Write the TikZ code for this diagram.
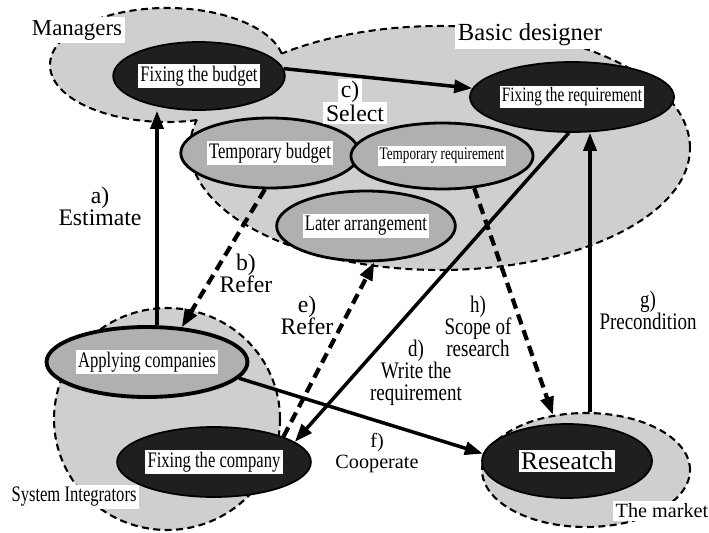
\documentclass[tikz,border=0pt]{standalone}
\usepackage{fontspec}
\setmainfont{Liberation Serif}
\newfontfamily\narrowfont{Liberation Serif}[FakeStretch=0.75]
\newfontfamily\midfont{Liberation Serif}[FakeStretch=0.8]
\usetikzlibrary{shapes.geometric,arrows.meta}

\newcommand{\wbox}[1]{{\setlength{\fboxsep}{1.2pt}\colorbox{white}{#1}}}

\tikzset{
  zone/.style={ellipse, draw, line width=1.2pt, dash pattern=on 4pt off 2.5pt,
    fill=gray!38, inner sep=0pt},
  darknode/.style={ellipse, fill=black!88, draw=black, line width=1pt, inner sep=0pt,
    font=\narrowfont\fontsize{12.6}{13}\selectfont},
  greynode/.style={ellipse, fill=gray!62, draw=black, line width=1.6pt, inner sep=0pt,
    font=\narrowfont\fontsize{12.6}{13}\selectfont},
  zonelabel/.style={fill=white, inner sep=1.5pt, font=\fontsize{13}{14}\selectfont},
  flowlabel/.style={align=center, inner sep=1pt, font=\fontsize{13.5}{12.5}\selectfont},
  narrowlabel/.style={flowlabel, font=\midfont\fontsize{13.5}{12.5}\selectfont},
  solidarrow/.style={line width=2pt, -{Triangle[length=3.6mm,width=2.6mm]}},
  dasharrow/.style={line width=2.4pt, dash pattern=on 6pt off 3.5pt,
    -{Triangle[length=3.6mm,width=2.6mm]}},
}

\begin{document}
\begin{tikzpicture}[x=0.02cm, y=-0.02cm]
  \useasboundingbox (0,0) rectangle (709,533);

  % zones
  \node[zone, minimum width=10cm, minimum height=4.88cm] (designzone) at (440,148) {};
  \node[zone, minimum width=4.68cm, minimum height=2.28cm] (mgrzone) at (167,65) {};
  \fill[gray!38] (designzone.center) ellipse [x radius=4.97cm, y radius=2.41cm];
  \fill[gray!38] (mgrzone.center) ellipse [x radius=2.31cm, y radius=1.11cm];
  \node[zone, minimum width=4.52cm, minimum height=4.44cm] (sizone) at (167,419) {};
  \node[zone, minimum width=4.16cm, minimum height=2.28cm] (mktzone) at (586,470) {};

  % zone names
  \node[zonelabel] (mgrlabel) at (77,30) {Managers};
  \node[zonelabel, font=\fontsize{14}{15}\selectfont] (designlabel) at (530,35) {Basic designer};
  \node[zonelabel, font=\narrowfont\fontsize{12.6}{13}\selectfont] (silabel) at (74,497) {System Integrators};
  \node[zonelabel, font=\fontsize{11.5}{12}\selectfont] (mktlabel) at (662,511) {The market};

  % activities
  \node[darknode, minimum width=3.24cm, minimum height=1.36cm] (budget) at (199,76) {\wbox{Fixing the budget}};
  \node[darknode, minimum width=3.24cm, minimum height=1.4cm,
    font=\narrowfont\fontsize{11.6}{13}\selectfont] (require) at (572,97) {\wbox{Fixing the requirement}};
  \node[greynode, minimum width=3.2cm, minimum height=1.4cm] (tmpbudget) at (270,153) {\wbox{Temporary budget}};
  \node[greynode, minimum width=3.2cm, minimum height=1.32cm,
    font=\narrowfont\fontsize{10}{11}\selectfont] (tmpreq) at (442,156) {\wbox{Temporary requirement}};
  \node[greynode, minimum width=3.24cm, minimum height=1.4cm] (later) at (366,226) {\wbox{Later arrangement}};
  \node[greynode, line width=2.2pt, minimum width=3.32cm, minimum height=1.4cm] (applying) at (147,362) {\wbox{Applying companies}};
  \node[darknode, minimum width=3.24cm, minimum height=1.4cm] (company) at (214,462) {\wbox{Fixing the company}};
  \node[darknode, minimum width=3.4cm, minimum height=1.48cm,
    font=\fontsize{14.5}{15}\selectfont] (research) at (567,461) {\wbox{Reseatch}};

  % flows
  \draw[solidarrow] (budget.5) -- (require.175);
  \draw[solidarrow] ([xshift=2mm]applying.north) -- ([xshift=2mm]applying.north |- budget.south);
  \draw[dasharrow] (tmpbudget.262) -- (applying.45);
  \draw[dasharrow] (company.20) -- (later.283);
  \draw[solidarrow] (require.265) -- (company.14);
  \draw[solidarrow] (applying.-10) -- (research.175);
  \draw[solidarrow] ([xshift=0.8mm]mktzone.north) -- ([xshift=0.8mm]mktzone.north |- require.south);
  \draw[dasharrow] (tmpreq.-45) -- (mktzone.121);

  % flow names
  \node[flowlabel] (alabel) at (100,206) {a)\\Estimate};
  \node[flowlabel] (blabel) at (246,273) {b)\\Refer};
  \node[zonelabel, font=\fontsize{13.5}{14}\selectfont] (clabel) at (350,92) {c)};
  \node[zonelabel, font=\fontsize{13.5}{14}\selectfont] (selectlabel) at (355,113) {Select};
  \node[narrowlabel] (dlabel) at (416,373) {d)\\Write the\\requirement};
  \node[flowlabel] (elabel) at (307,315) {e)\\Refer};
  \node[flowlabel, font=\fontsize{11.5}{12}\selectfont] (flabel) at (377,453) {f)\\Cooperate};
  \node[narrowlabel] (glabel) at (648,310) {g)\\Precondition};
  \node[narrowlabel] (hlabel) at (478,326) {h)\\Scope of\\research};
\end{tikzpicture}
\end{document}
